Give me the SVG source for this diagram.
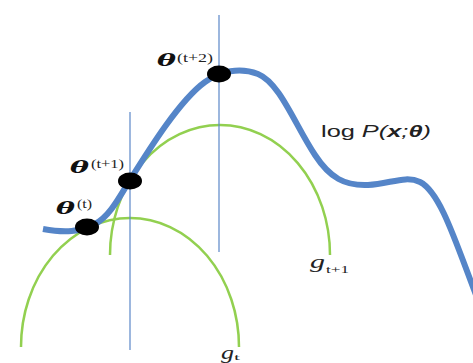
<svg xmlns="http://www.w3.org/2000/svg" width="473" height="363" viewBox="0 0 473 363">
  <style>
    .curve { fill: none; stroke: #5585c8; stroke-width: 6; stroke-linecap: butt; }
    .vline { stroke: #5b87c8; stroke-width: 1.2; }
    .arc { fill: none; stroke: #92d050; stroke-width: 2.5; }
    .dot { fill: #000; }
    .th { font-family: "DejaVu Serif", "Liberation Serif", serif; font-weight: bold; font-style: italic; fill: #111; }
    .sup { font-family: "Liberation Serif", serif; fill: #222; }
    .lbl { font-family: "Liberation Sans", Arial, sans-serif; fill: #222; }
    .g { font-family: "Liberation Serif", serif; font-style: italic; fill: #222; }
  </style>
  <rect width="473" height="363" fill="#fff"/>
  <g id="connectors">
    <path id="gt" class="arc" d="M21,347 A109,129 0 0 1 239,347"/>
    <path id="gt1" class="arc" d="M110,255 A110,130 0 0 1 330,255"/>
    <line class="vline" x1="219" y1="15" x2="219" y2="252"/>
    <line class="vline" x1="130" y1="112" x2="130" y2="350"/>
    <path id="logp" class="curve" d="M43,229 C65,233 80,232 95,224 C110,216 120,196 130,180 C150,148 180,100 205,82 C220,71 240,67 258,74 C280,83 295,125 315,155 C330,178 345,186 368,185 C390,184 405,175 420,182 C440,192 455,240 476,295"/>
  </g>
  <g id="theta-t">
    <ellipse class="dot" cx="87" cy="227" rx="12" ry="8.5"/>
    <text class="th" x="56" y="214" font-size="17" textLength="19" lengthAdjust="spacingAndGlyphs">θ</text>
    <text class="sup" x="77" y="208" font-size="12" textLength="15" lengthAdjust="spacingAndGlyphs">(t)</text>
  </g>
  <g id="theta-t1">
    <ellipse class="dot" cx="130" cy="181" rx="12" ry="8.5"/>
    <text class="th" x="70" y="173" font-size="17" textLength="19" lengthAdjust="spacingAndGlyphs">θ</text>
    <text class="sup" x="91" y="168" font-size="12" textLength="33" lengthAdjust="spacingAndGlyphs">(t+1)</text>
  </g>
  <g id="theta-t2">
    <ellipse class="dot" cx="219" cy="74" rx="12" ry="8.5"/>
    <text class="th" x="157" y="66" font-size="17" textLength="19" lengthAdjust="spacingAndGlyphs">θ</text>
    <text class="sup" x="177" y="62" font-size="12" textLength="36" lengthAdjust="spacingAndGlyphs">(t+2)</text>
  </g>
  <g id="label-logp">
    <text class="lbl" x="321" y="137" font-size="17" textLength="110" lengthAdjust="spacingAndGlyphs">log <tspan font-style="italic">P(</tspan><tspan font-style="italic" font-weight="bold">x</tspan><tspan font-style="italic">;</tspan><tspan font-style="italic" font-weight="bold">θ</tspan><tspan font-style="italic">)</tspan></text>
  </g>
  <g id="label-gt1">
    <text class="g" x="310" y="268" font-size="19" textLength="15" lengthAdjust="spacingAndGlyphs">g</text>
    <text class="sup" x="326" y="273" font-size="10" textLength="23" lengthAdjust="spacingAndGlyphs">t+1</text>
  </g>
  <g id="label-gt">
    <text class="g" x="221" y="359" font-size="19" textLength="13" lengthAdjust="spacingAndGlyphs">g</text>
    <text class="sup" x="234" y="360" font-size="9" textLength="6" lengthAdjust="spacingAndGlyphs">t</text>
  </g>
</svg>
